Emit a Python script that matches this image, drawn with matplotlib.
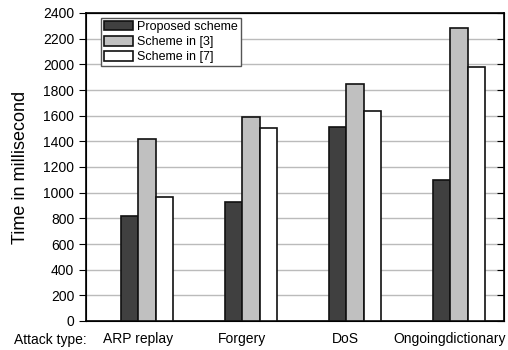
import numpy as np
import matplotlib.pyplot as plt

plt.rcParams['font.family'] = ['Liberation Sans', 'DejaVu Sans']

attacks = ["ARP replay", "Forgery", "DoS", "Ongoingdictionary"]
proposed = [815, 930, 1515, 1100]
scheme3 = [1420, 1590, 1850, 2280]
scheme7 = [965, 1500, 1635, 1980]

fig = plt.figure(figsize=(5.08, 3.5), dpi=100)
ax = fig.add_axes([86/508, 1 - 321/350, 418/508, 308/350])

x = np.arange(len(attacks))
w = 0.165
ax.bar(x - w, proposed, w, color="#404040", edgecolor="#111111", linewidth=1.2, label="Proposed scheme", zorder=3)
ax.bar(x, scheme3, w, color="#c0c0c0", edgecolor="#111111", linewidth=1.2, label="Scheme in [3]", zorder=3)
ax.bar(x + w, scheme7, w, color="white", edgecolor="#111111", linewidth=1.2, label="Scheme in [7]", zorder=3)

ax.set_xlim(-0.587, 3.432)
ax.set_ylim(0, 2400)
ax.set_yticks(range(0, 2401, 200))
ax.yaxis.grid(True, color="#bbbbbb", linewidth=1, zorder=0)
ax.tick_params(axis="y", direction="out", labelsize=10, length=5)
ax.tick_params(axis="x", length=0, labelsize=10, pad=8)
ax.set_xticks(x - 0.09)
ax.set_xticklabels(attacks)
for s in ax.spines.values():
    s.set_linewidth(1.2)

# inward ticks on the right side
ax2 = ax.twinx()
ax2.set_ylim(0, 2400)
ax2.set_yticks(range(0, 2401, 200))
ax2.tick_params(axis="y", direction="in", length=5, labelright=False)

ax.set_ylabel("Time in millisecond", fontsize=13, labelpad=10)
fig.text(14/508, 1 - 340/350, "Attack type:", fontsize=10, va="center", ha="left")

leg = ax.legend(loc="upper left", bbox_to_anchor=(0.036, 0.985), fontsize=9,
                frameon=True, fancybox=False, edgecolor="#555555", framealpha=1,
                borderpad=0.25, labelspacing=0.25, handlelength=2.3, handleheight=0.8,
                handletextpad=0.3, borderaxespad=0)
leg.get_frame().set_linewidth(1)

fig.savefig("out.png", dpi=100)
